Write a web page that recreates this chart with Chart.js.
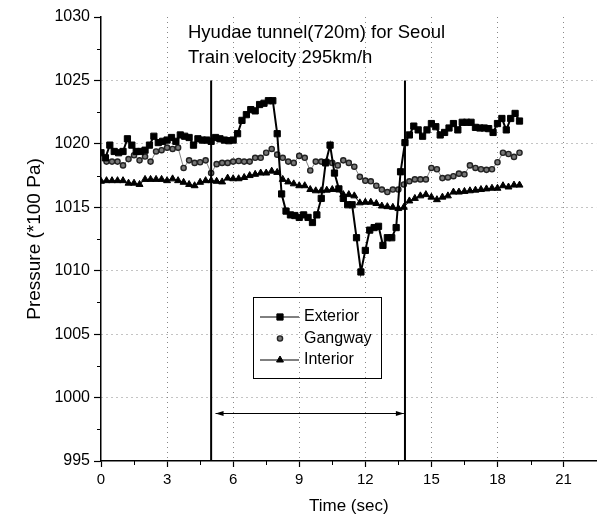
<!DOCTYPE html>
<html>
<head>
<meta charset="utf-8">
<title>Hyudae tunnel pressure</title>
<script src="https://cdn.jsdelivr.net/npm/chart.js@4.4.1/dist/chart.umd.min.js"></script>
<style>
    html, body { margin: 0; padding: 0; background: #fff; }
    #box { width: 602px; height: 522px; position: relative; }
</style>
</head>
<body>
<div id="box"><canvas id="pressureChart"></canvas></div>
<script>
// sample clock (sec): exterior logged every 0.2 s, gangway / interior every 0.25 s
const extStep = 0.2;
const cabinStep = 0.25;
const gangwayStart = 0.25;

// pressure, *100 Pa
const exterior = [
    1019.3, 1018.9, 1019.9, 1019.4, 1019.3, 1019.4, 1020.4, 1019.9, 1019.4, 1019.4,
    1019.5, 1019.9, 1020.6, 1020.1, 1020.2, 1020.3, 1020.5, 1020.2, 1020.7, 1020.6,
    1020.5, 1019.9, 1020.4, 1020.3, 1020.3, 1020.2, 1020.5, 1020.4, 1020.3, 1020.25,
    1020.3, 1020.8, 1021.85, 1022.3, 1022.7, 1022.6, 1023.1, 1023.2, 1023.4, 1023.4,
    1020.8, 1016.05, 1014.7, 1014.4, 1014.35, 1014.2, 1014.4, 1014.2, 1013.8, 1014.4,
    1015.7, 1018.5, 1019.9, 1017.7, 1016.45, 1015.7, 1015.2, 1015.2, 1012.6, 1009.9,
    1011.6, 1013.2, 1013.4, 1013.5, 1012.0, 1012.6, 1012.6, 1013.4, 1017.8, 1020.1,
    1020.7, 1021.4, 1021.1, 1020.6, 1021.1, 1021.6, 1021.35, 1020.7, 1020.9, 1021.25,
    1021.6, 1021.1, 1021.7, 1021.7, 1021.7, 1021.3, 1021.25, 1021.25, 1021.2, 1020.9,
    1021.6, 1022.0, 1021.1, 1022.0, 1022.4, 1021.8
];
const gangway = [
    1018.6, 1018.6, 1018.6, 1018.3, 1018.8, 1019.1, 1018.7, 1019.0, 1018.6, 1019.4,
    1019.5, 1019.7, 1019.6, 1019.7, 1018.1, 1018.7, 1018.5, 1018.55, 1018.7, 1017.7,
    1018.4, 1018.5, 1018.5, 1018.6, 1018.65, 1018.6, 1018.6, 1018.9, 1018.9, 1019.3,
    1019.6, 1019.15, 1018.9, 1018.6, 1018.5, 1019.05, 1018.9, 1017.9, 1018.6, 1018.6,
    1018.6, 1018.5, 1018.3, 1018.7, 1018.5, 1018.2, 1017.4, 1017.1, 1017.05, 1016.7,
    1016.4, 1016.2, 1016.4, 1016.4, 1016.8, 1017.05, 1017.2, 1017.2, 1017.2, 1018.1,
    1018.0, 1017.3, 1017.35, 1017.45, 1017.65, 1017.6, 1018.3, 1018.1, 1018.0, 1017.95,
    1018.0, 1018.55, 1019.3, 1019.2, 1018.97, 1019.3
];
const interior = [
    1017.05, 1017.1, 1017.1, 1017.1, 1017.1, 1016.9, 1016.9, 1016.8, 1017.2, 1017.2,
    1017.2, 1017.2, 1017.1, 1017.24, 1017.1, 1016.97, 1016.8, 1016.7, 1016.97, 1017.1,
    1017.1, 1017.05, 1017.0, 1017.3, 1017.25, 1017.25, 1017.35, 1017.5, 1017.6, 1017.7,
    1017.7, 1017.85, 1017.75, 1017.2, 1017.0, 1016.85, 1016.7, 1016.7, 1016.4, 1016.3,
    1016.3, 1016.35, 1016.4, 1016.4, 1016.0, 1016.0, 1015.9, 1015.35, 1015.4, 1015.4,
    1015.3, 1015.1, 1015.05, 1015.0, 1014.9, 1015.0, 1015.5, 1015.7, 1015.9, 1016.0,
    1015.8, 1015.6, 1015.8, 1015.9, 1016.2, 1016.2, 1016.25, 1016.3, 1016.35, 1016.4,
    1016.45, 1016.5, 1016.5, 1016.7, 1016.6, 1016.75, 1016.75
];

// train in tunnel between these times
const tunnelMarks = [5, 13.8];
const tunnelMarkTop = 1025;
const arrowSpan = [5.2, 13.75];
const arrowLevel = 998.8;

const titleLines = ['Hyudae tunnel(720m) for Seoul', 'Train velocity 295km/h'];

const FONT = '"Liberation Sans", Arial, Helvetica, sans-serif';

function toPoints(values, start, step) {
    return values.map((p, i) => ({x: +(start + i * step).toFixed(2), y: p}));
}

const seriesStyle = [
    {label: 'Exterior', data: toPoints(exterior, 0, extStep),
        borderColor: '#000', backgroundColor: '#000', borderWidth: 2,
        pointStyle: 'rect', pointRadius: 4.4, pointBorderWidth: 1,
        pointBackgroundColor: '#000', pointBorderColor: '#000', showLine: true},
    {label: 'Gangway', data: toPoints(gangway, gangwayStart, cabinStep),
        borderColor: '#666', backgroundColor: '#888', borderWidth: 0.8,
        pointStyle: 'circle', pointRadius: 2.6, pointBorderWidth: 1.4,
        pointBackgroundColor: '#777', pointBorderColor: '#222', showLine: true},
    {label: 'Interior', data: toPoints(interior, 0, cabinStep),
        borderColor: '#000', backgroundColor: '#000', borderWidth: 1,
        pointStyle: 'triangle', pointRadius: 4, pointBorderWidth: 1,
        pointBackgroundColor: '#000', pointBorderColor: '#000', showLine: true}
];

// extra drawing: tunnel marks, arrow, minor ticks, caption and the boxed legend
const overlay = {
    id: 'overlay',
    afterDraw(chart) {
        const {ctx, chartArea: area, scales: {x, y}} = chart;
        ctx.save();

        ctx.strokeStyle = '#000';
        ctx.fillStyle = '#000';
        ctx.lineWidth = 2;
        tunnelMarks.forEach(t => {
            const px = x.getPixelForValue(t);
            ctx.beginPath();
            ctx.moveTo(px, y.getPixelForValue(tunnelMarkTop));
            ctx.lineTo(px, y.getPixelForValue(y.min));
            ctx.stroke();
        });

        // double arrow
        const ay = Math.round(y.getPixelForValue(arrowLevel)) + 0.5;
        const ax1 = x.getPixelForValue(arrowSpan[0]);
        const ax2 = x.getPixelForValue(arrowSpan[1]);
        ctx.lineWidth = 1;
        ctx.beginPath();
        ctx.moveTo(ax1, ay);
        ctx.lineTo(ax2, ay);
        ctx.stroke();
        [[ax1, 1], [ax2, -1]].forEach(([px, dir]) => {
            ctx.beginPath();
            ctx.moveTo(px, ay);
            ctx.lineTo(px + dir * 8, ay - 2.5);
            ctx.lineTo(px + dir * 8, ay + 2.5);
            ctx.closePath();
            ctx.fill();
        });

        // minor ticks
        ctx.lineWidth = 1;
        ctx.beginPath();
        for (let t = 1.5; t < x.max; t += 3) {
            const px = Math.round(x.getPixelForValue(t)) + 0.5;
            ctx.moveTo(px, area.bottom);
            ctx.lineTo(px, area.bottom + 4);
        }
        for (let p = y.min + 2.5; p < y.max; p += 5) {
            const py = Math.round(y.getPixelForValue(p)) + 0.5;
            ctx.moveTo(area.left, py);
            ctx.lineTo(area.left - 4, py);
        }
        ctx.stroke();

        // caption
        ctx.font = '18.5px ' + FONT;
        ctx.textAlign = 'left';
        ctx.textBaseline = 'alphabetic';
        titleLines.forEach((line, i) => {
            ctx.fillText(line, area.left + 87, area.top + 21 + i * 25);
        });

        // legend box
        const lx = area.left + 152;
        const ly = area.top + 280;
        ctx.lineWidth = 1;
        ctx.strokeRect(lx + 0.5, ly + 0.5, 128, 81);
        ctx.font = '16px ' + FONT;
        ctx.textBaseline = 'middle';
        seriesStyle.forEach((ds, i) => {
            const ey = ly + 20 + i * 21.5;
            if (ds.label !== 'Gangway') {
                ctx.strokeStyle = ds.borderColor;
                ctx.lineWidth = 1;
                ctx.beginPath();
                ctx.moveTo(lx + 7, ey);
                ctx.lineTo(lx + 46, ey);
                ctx.stroke();
            }
            ctx.fillStyle = ds.pointBackgroundColor;
            ctx.strokeStyle = ds.pointBorderColor;
            ctx.lineWidth = ds.pointBorderWidth;
            Chart.helpers.drawPoint(ctx, {
                pointStyle: ds.pointStyle, radius: ds.pointRadius,
                borderWidth: ds.pointBorderWidth, rotation: 0
            }, lx + 27, ey);
            ctx.fillStyle = '#000';
            ctx.fillText(ds.label, lx + 51, ey);
        });

        ctx.restore();
    }
};

new Chart(document.getElementById('pressureChart'), {
    type: 'line',
    data: {datasets: seriesStyle},
    options: {
        responsive: true,
        maintainAspectRatio: false,
        animation: false,
        layout: {padding: {top: 17, right: 1, left: 0, bottom: 0}},
        plugins: {legend: {display: false}, tooltip: {enabled: false}},
        elements: {line: {tension: 0}},
        scales: {
            x: {
                type: 'linear', min: 0, max: 22.5,
                ticks: {stepSize: 3, includeBounds: false, autoSkip: false, maxRotation: 0,
                    color: '#000', padding: 4, font: {family: FONT, size: 15}},
                grid: {
                    color: c => (c.tick && c.tick.value > 0) ? '#888' : 'rgba(0,0,0,0)',
                    tickColor: '#000', tickLength: 6, tickWidth: 1.2, tickBorderDash: []
                },
                border: {color: '#000', width: 1.5, dash: [1, 4]},
                title: {display: true, text: 'Time (sec)', color: '#000',
                    font: {family: FONT, size: 17}, padding: {top: 0, bottom: 5}},
                afterFit: s => { s.height = 61; }
            },
            y: {
                min: 995, max: 1030,
                ticks: {stepSize: 5, includeBounds: false, color: '#000', padding: 4,
                    font: {family: FONT, size: 16}, callback: v => String(v)},
                grid: {
                    color: c => (c.tick && c.tick.value > 995 && c.tick.value < 1030) ? '#888' : 'rgba(0,0,0,0)',
                    tickColor: '#000', tickLength: 7, tickWidth: 1.2, tickBorderDash: []
                },
                border: {color: '#000', width: 1.5, dash: [1, 4]},
                title: {display: true, text: 'Pressure (*100 Pa)', color: '#000',
                    font: {family: FONT, size: 19}, padding: {top: 23, bottom: 0}},
                afterFit: s => { s.width = 101; }
            }
        }
    },
    plugins: [overlay]
});
</script>
</body>
</html>
